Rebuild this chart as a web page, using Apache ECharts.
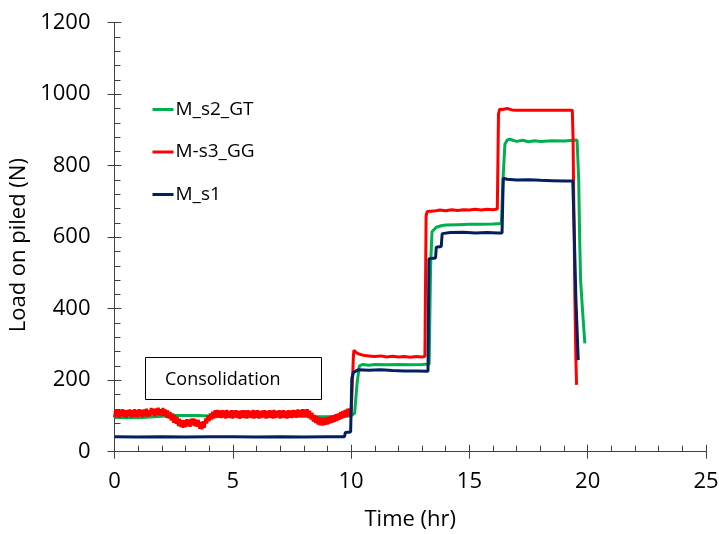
<!DOCTYPE html>
<html>
<head>
<meta charset="utf-8">
<script src="https://cdn.jsdelivr.net/npm/echarts@6/dist/echarts.min.js"></script>
<style>
    html, body { margin: 0; padding: 0; background: #fff; }
    #chart { width: 719px; height: 534px; }
</style>
</head>
<body>
<div id="chart"></div>
<script>
// Series names (legend order)
var seriesNames = ['M_s2_GT', 'M-s3_GG', 'M_s1'];

// Axis ticks
var timeTicks = [0, 5, 10, 15, 20, 25];
var loadTicks = [0, 200, 400, 600, 800, 1000, 1200];

// M_s2_GT (green)
var greenTime = [0, 0.5, 1, 1.5, 2, 2.5, 3, 3.5, 4, 4.5, 5, 5.5, 6, 6.5, 7, 7.5, 8, 8.5, 9, 9.5, 10,
    10.15, 10.25, 10.35, 10.5, 10.75, 11, 11.5, 12, 12.5, 13, 13.3,
    13.36, 13.42, 13.6, 13.8, 14, 14.5, 15, 15.5, 16, 16.35,
    16.42, 16.5, 16.6, 16.7, 17, 17.25, 17.5, 17.75, 18, 18.5, 19, 19.4, 19.55,
    19.58, 19.62, 19.66, 19.7, 19.79, 19.88];
var greenLoad = [96, 96, 95, 97, 99, 101, 101, 101, 100, 100, 101, 100, 101, 100, 101, 100, 100, 98, 98, 99, 100,
    108, 190, 240, 244, 242, 244, 243, 244, 243, 244, 245,
    520, 615, 628, 632, 634, 635, 636, 636, 637, 638,
    760, 860, 872, 874, 868, 871, 867, 870, 868, 870, 869, 871, 872,
    868, 760, 600, 480, 387, 303];

// M-s3_GG (red) - noisy consolidation stage, then loading steps
var redTime = [
    0.00, 0.05, 0.10, 0.15, 0.20, 0.25, 0.30, 0.35, 0.40, 0.45,
    0.50, 0.55, 0.60, 0.65, 0.70, 0.75, 0.80, 0.85, 0.90, 0.95,
    1.00, 1.05, 1.10, 1.15, 1.20, 1.25, 1.30, 1.35, 1.40, 1.45,
    1.50, 1.55, 1.60, 1.65, 1.70, 1.75, 1.80, 1.85, 1.90, 1.95,
    2.00, 2.05, 2.10, 2.15, 2.20, 2.25, 2.30, 2.35, 2.40, 2.45,
    2.50, 2.55, 2.60, 2.65, 2.70, 2.75, 2.80, 2.85, 2.90, 2.95,
    3.00, 3.05, 3.10, 3.15, 3.20, 3.25, 3.30, 3.35, 3.40, 3.45,
    3.50, 3.55, 3.60, 3.65, 3.70, 3.75, 3.80, 3.85, 3.90, 3.95,
    4.00, 4.05, 4.10, 4.15, 4.20, 4.25, 4.30, 4.35, 4.40, 4.45,
    4.50, 4.55, 4.60, 4.65, 4.70, 4.75, 4.80, 4.85, 4.90, 4.95,
    5.00, 5.05, 5.10, 5.15, 5.20, 5.25, 5.30, 5.35, 5.40, 5.45,
    5.50, 5.55, 5.60, 5.65, 5.70, 5.75, 5.80, 5.85, 5.90, 5.95,
    6.00, 6.05, 6.10, 6.15, 6.20, 6.25, 6.30, 6.35, 6.40, 6.45,
    6.50, 6.55, 6.60, 6.65, 6.70, 6.75, 6.80, 6.85, 6.90, 6.95,
    7.00, 7.05, 7.10, 7.15, 7.20, 7.25, 7.30, 7.35, 7.40, 7.45,
    7.50, 7.55, 7.60, 7.65, 7.70, 7.75, 7.80, 7.85, 7.90, 7.95,
    8.00, 8.05, 8.10, 8.15, 8.20, 8.25, 8.30, 8.35, 8.40, 8.45,
    8.50, 8.55, 8.60, 8.65, 8.70, 8.75, 8.80, 8.85, 8.90, 8.95,
    9.00, 9.05, 9.10, 9.15, 9.20, 9.25, 9.30, 9.35, 9.40, 9.45,
    9.50, 9.55, 9.60, 9.65, 9.70, 9.75, 9.80, 9.85, 9.90, 9.95,
    10.0, 10.05, 10.1, 10.12, 10.2, 10.3, 10.5, 10.75, 11.0, 11.25, 11.5, 11.75,
    12.0, 12.25, 12.5, 12.75, 13.0, 13.12,
    13.17, 13.22, 13.3, 13.5, 13.75, 14.0, 14.25, 14.5, 14.75, 15.0, 15.25, 15.5, 15.75, 16.0, 16.18,
    16.23, 16.28, 16.4, 16.6, 16.8, 17.0, 17.5, 18.0, 18.5, 19.0, 19.35,
    19.38, 19.42, 19.46, 19.5, 19.53];
var redLoad = [
    96, 118, 98, 117, 95, 117, 99, 119, 97, 116,
    95, 117, 100, 118, 96, 116, 97, 119, 98, 117,
    97, 119, 99, 117, 96, 118, 100, 120, 98, 116,
    100, 122, 102, 120, 99, 121, 103, 123, 101, 119,
    100, 122, 101, 118, 95, 115, 93, 111, 87, 107,
    81, 102, 78, 97, 72, 92, 69, 89, 67, 88,
    69, 91, 71, 90, 70, 92, 74, 93, 71, 90,
    70, 89, 64, 83, 63, 85, 67, 93, 79, 102,
    85, 107, 90, 112, 93, 116, 95, 117, 96, 115,
    94, 116, 96, 115, 93, 117, 95, 114, 94, 116,
    93, 115, 96, 116, 94, 114, 92, 115, 95, 116,
    94, 115, 93, 116, 96, 114, 94, 117, 93, 115,
    95, 116, 93, 114, 94, 115, 96, 116, 93, 114,
    94, 116, 95, 115, 93, 117, 94, 114, 96, 116,
    93, 115, 95, 116, 94, 114, 93, 116, 95, 115,
    94, 117, 96, 116, 95, 118, 97, 117, 96, 119,
    96, 118, 97, 119, 94, 115, 90, 109, 84, 103,
    80, 100, 76, 96, 74, 94, 73, 95, 75, 96,
    76, 98, 79, 100, 81, 102, 84, 105, 86, 107,
    89, 111, 92, 114, 95, 117, 97, 120, 99, 121,
    104, 100, 270, 284, 278, 274, 270, 268, 266, 268, 265, 267,
    265, 266, 264, 266, 265, 266,
    660, 672, 674, 673, 676, 674, 677, 675, 677, 676, 678, 676, 678, 677, 679,
    945, 958, 957, 960, 956, 955, 955, 955, 955, 955, 955,
    880, 650, 420, 260, 187];

// M_s1 (navy)
var blueTime = [0, 1, 2, 3, 4, 5, 6, 7, 8, 9, 9.72, 9.76, 9.98,
    10.03, 10.1, 10.3, 10.75, 11.25, 11.75, 12.25, 12.75, 13.25,
    13.29, 13.57, 13.6, 13.81, 13.85, 14.2, 14.75, 15.25, 15.75, 16.2, 16.38,
    16.43, 16.5, 16.6, 17, 17.5, 18, 18.5, 19, 19.37,
    19.42, 19.5, 19.6];
var blueLoad = [42, 41, 42, 41, 42, 42, 41, 42, 41, 42, 42, 54, 55,
    205, 222, 229, 228, 229, 227, 226, 226, 225,
    540, 542, 572, 574, 610, 613, 614, 612, 613, 612, 612,
    765, 768, 762, 760, 761, 759, 758, 757, 757,
    640, 430, 256];

var seriesColors = ['#00B050', '#FF0000', '#002060'];

function zip(xs, ys) {
    return xs.map(function (x, i) { return [x, ys[i]]; });
}

var chart = echarts.init(document.getElementById('chart'), null, { renderer: 'canvas' });

var fontFamily = '"Open Sans", sans-serif';
var axisColor = '#404040';

// Two overlapping axes per direction: one with outside ticks and labels,
// one with inside ticks and minor ticks, so major ticks cross the line
function valueAxis(primary, range, ticks, pos) {
    var axis = {
        type: 'value',
        position: pos,
        min: range[0],
        max: range[1],
        interval: ticks[1] - ticks[0],
        axisLine: { show: true, onZero: false, lineStyle: { color: axisColor, width: 1 } },
        splitLine: { show: false },
        axisLabel: { show: false }
    };
    if (primary) {
        axis.axisTick = { show: true, inside: false, length: 7, lineStyle: { color: axisColor } };
        axis.minorTick = { show: false };
    } else {
        axis.axisTick = { show: true, inside: true, length: 7, lineStyle: { color: axisColor } };
        axis.minorTick = { show: true, splitNumber: 5, length: 6, lineStyle: { color: axisColor } };
    }
    return axis;
}

var xMain = valueAxis(true, [0, 25], timeTicks, 'bottom');
xMain.name = 'Time (hr)';
xMain.nameLocation = 'middle';
xMain.nameGap = 57;
xMain.nameTextStyle = { fontSize: 22, color: '#000', fontFamily: fontFamily };
xMain.axisLabel = { show: true, fontSize: 22, color: '#000', margin: 19, fontFamily: fontFamily };

var yMain = valueAxis(true, [0, 1200], loadTicks, 'left');
yMain.name = 'Load on piled (N)';
yMain.nameLocation = 'middle';
yMain.nameGap = 81;
yMain.nameTextStyle = { fontSize: 22, color: '#000', fontFamily: fontFamily, padding: [0, 16, 0, 0] };
yMain.axisLabel = {
    show: true, fontSize: 22, color: '#000', margin: 24, fontFamily: fontFamily,
    formatter: function (v) { return String(v); }
};

var option = {
    animation: false,
    backgroundColor: '#fff',
    textStyle: { fontFamily: fontFamily },
    grid: {
        left: 114.5, right: 13, top: 22.7, bottom: 82.3,
        containLabel: false, outerBoundsMode: 'none'
    },
    legend: {
        orient: 'vertical',
        left: 151,
        top: 100,
        padding: 0,
        itemWidth: 21,
        itemHeight: 18,
        itemGap: 23.5,
        data: seriesNames,
        itemStyle: { opacity: 0 },
        lineStyle: { width: 3 },
        textStyle: { fontSize: 19, color: '#000', fontFamily: fontFamily, padding: [0, 0, 0, -3] }
    },
    xAxis: [xMain, valueAxis(false, [0, 25], timeTicks, 'bottom')],
    yAxis: [yMain, valueAxis(false, [0, 1200], loadTicks, 'left')],
    graphic: [
        {
            type: 'rect',
            left: 145,
            top: 357,
            shape: { width: 176, height: 42 },
            style: { fill: '#fff', stroke: '#000', lineWidth: 1 },
            z: 10
        },
        {
            type: 'text',
            left: 165,
            top: 371,
            style: { text: 'Consolidation', fontSize: 18, fill: '#000', fontFamily: fontFamily },
            z: 11
        }
    ],
    series: [
        { name: seriesNames[0], data: zip(greenTime, greenLoad) },
        { name: seriesNames[1], data: zip(redTime, redLoad) },
        { name: seriesNames[2], data: zip(blueTime, blueLoad) }
    ].map(function (s, i) {
        s.type = 'line';
        s.xAxisIndex = 0;
        s.yAxisIndex = 0;
        s.symbol = 'none';
        s.showSymbol = false;
        s.color = seriesColors[i];
        s.lineStyle = { color: seriesColors[i], width: 3 };
        s.z = 2 + i;
        return s;
    })
};

chart.setOption(option);
</script>
</body>
</html>
